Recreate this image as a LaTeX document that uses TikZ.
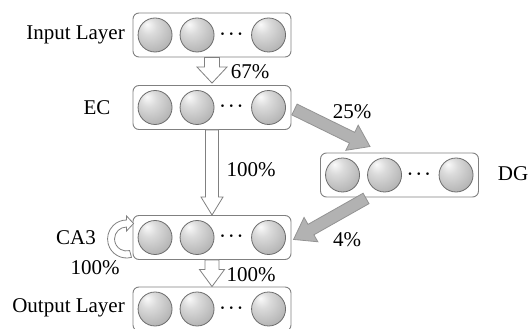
\documentclass[tikz,border=0pt]{standalone}
\usepackage{amsmath}
\usepackage{fontspec}
\setmainfont{Liberation Serif}
\usetikzlibrary{calc}
\pgfdeclareradialshading{sphereshade}{\pgfpoint{-12bp}{16bp}}{color(0bp)=(gray!4); color(12bp)=(gray!28); color(32bp)=(gray!56); color(50bp)=(gray!78); color(70bp)=(gray!80)}
\tikzset{
  layerbox/.style={draw=gray, line width=0.9pt, rounded corners=6pt, minimum width=158pt, minimum height=44pt, inner sep=0pt},
  sphere/.style={circle, draw=gray!85!black, line width=0.8pt, shading=sphereshade, minimum size=34pt, inner sep=0pt},
  lab/.style={font=\fontsize{21}{21}\selectfont, inner sep=0pt},
  dotsnode/.style={inner sep=0pt, font=\fontsize{18}{18}\selectfont},
  hollow/.style={draw=gray, fill=white, line width=0.8pt, line join=miter},
  grayarr/.style={draw=gray!85, fill=gray!60, line width=0.8pt, line join=miter}
}
\newcommand\layerrow[3]{%
  \node[layerbox] (#1) at (#2,#3) {};
  \node[sphere] (#1-a) at ($(#1.west)+(22.5,0)$) {};
  \node[sphere] (#1-b) at ($(#1.west)+(64.5,0)$) {};
  \node[dotsnode] (#1-d) at ($(#1.west)+(100.5,1)$) {$\boldsymbol{\cdots}$};
  \node[sphere] (#1-c) at ($(#1.west)+(136,0)$) {};
}
\newcommand\AP[2]{({\x1+(#1)*cos(\n1)-(#2)*sin(\n1)},{\y1+(#1)*sin(\n1)+(#2)*cos(\n1)})}
\newcommand\fatarrow[6]{%
  \draw[#1] let \p1=#2, \p2=#3, \n1={atan2(\y2-\y1,\x2-\x1)}, \n2={veclen(\x2-\x1,\y2-\y1)} in
    \AP{0}{-#4} -- \AP{\n2-#6}{-#4} -- \AP{\n2-#6}{-#5} -- \AP{\n2}{0} -- \AP{\n2-#6}{#5} -- \AP{\n2-#6}{#4} -- \AP{0}{#4} -- cycle;
}
\begin{document}
\begin{tikzpicture}[x=1pt,y=1pt]
\useasboundingbox (0,0) rectangle (530,329);
\layerrow{in}{212}{294}
\layerrow{ec}{212}{221.5}
\layerrow{ca3}{212}{91.5}
\layerrow{out}{212}{20}
\layerrow{dg}{399.5}{154}
% labels
\node[lab, anchor=east] (inlab) at (125,294) {Input Layer};
\node[lab] (eclab) at (97,221) {EC};
\node[lab] (ca3lab) at (76,91) {CA3};
\node[lab] (looplab) at (95,61) {100\%};
\node[lab, anchor=east] (outlab) at (125,21) {Output Layer};
\node[lab] (dglab) at (513,155) {DG};
\node[lab] (p67) at (250,257) {67\%};
\node[lab] (p100a) at (251,159) {100\%};
\node[lab] (p100b) at (251,54) {100\%};
\node[lab] (p25) at (352,217) {25\%};
\node[lab] (p4) at (347,89) {4\%};
% hollow arrows
\fatarrow{hollow}{(in.south)}{($(ec.north)+(0,2)$)}{7.5}{15}{16}
\fatarrow{hollow}{(ec.south)}{(ca3.north)}{6.5}{11}{18}
\fatarrow{hollow}{(ca3.south)}{(out.north)}{7}{12.5}{17}
% gray arrows
\fatarrow{grayarr}{($(ec.east)+(3,-2)$)}{($(dg.north west)+(50,6)$)}{6}{14}{20}
\fatarrow{grayarr}{($(dg.south west)+(46,-1)$)}{($(ca3.east)+(2,-2)$)}{6}{14}{20}
% self loop on CA3
\coordinate (lc) at ($(ca3.west)+(-6,-1.5)$);
\draw[hollow] ($(lc)+(-75:19)$) arc[start angle=-75, end angle=-270, radius=19]
  -- ++(0,4) -- ($(lc)+(7,15.5)$) -- ($(lc)+(0,8)$) -- ($(lc)+(0,12)$)
  arc[start angle=90, end angle=285, radius=12] -- cycle;
\end{tikzpicture}
\end{document}
